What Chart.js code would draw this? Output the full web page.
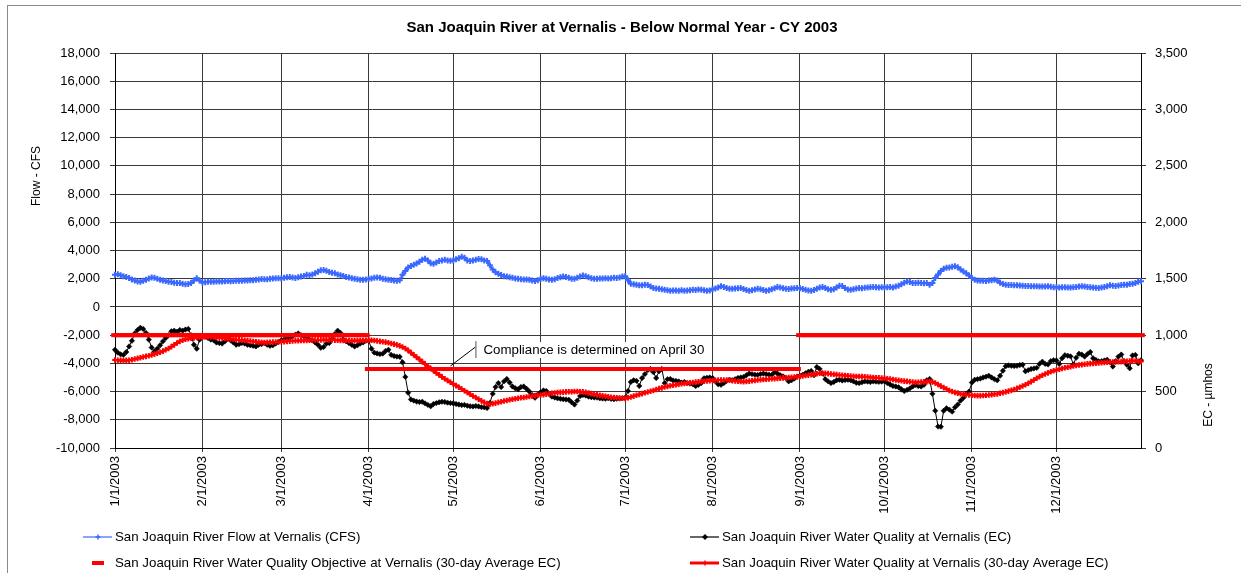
<!DOCTYPE html>
<html>
<head>
<meta charset="utf-8">
<script src="https://cdn.jsdelivr.net/npm/chart.js@4/dist/chart.umd.min.js"></script>
<style>
  html, body { margin: 0; padding: 0; background: #fff; }
  #wrap { width: 1241px; height: 573px; }
</style>
</head>
<body>
<div id="wrap"><canvas id="grafico" width="1241" height="573"></canvas></div>
<script>
// tick labels for the month grid lines
const monthTicks = ['1/1/2003', '2/1/2003', '3/1/2003', '4/1/2003', '5/1/2003', '6/1/2003',
  '7/1/2003', '8/1/2003', '9/1/2003', '10/1/2003', '11/1/2003', '12/1/2003'];

// flow at Vernalis (CFS), one value per day, one row per month
const flowCfs = [
  2280, 2310, 2240, 2170, 2120, 2050, 1950, 1880, 1800, 1790, 1850, 1930, 2010, 2080, 2060, 1990, 1930, 1880, 1830, 1780, 1760, 1720, 1700, 1690, 1650, 1600, 1620, 1700, 1880, 2040, 1880,
  1730, 1750, 1780, 1790, 1780, 1800, 1810, 1800, 1820, 1830, 1820, 1840, 1850, 1860, 1850, 1870, 1880, 1900, 1890, 1920, 1940, 1980, 1970, 1960, 1990, 2010, 2030, 2040,
  2020, 2060, 2100, 2120, 2090, 2050, 2100, 2150, 2200, 2280, 2250, 2300, 2380, 2490, 2600, 2620, 2560, 2480, 2430, 2380, 2300, 2240, 2190, 2120, 2080, 2040, 2000, 1960, 1930, 1920, 1940,
  2000, 2020, 2060, 2090, 2060, 2000, 1960, 1930, 1910, 1880, 1860, 1900, 2280, 2550, 2800, 2900, 2990, 3080, 3200, 3350, 3420, 3300, 3100, 3060, 3150, 3250, 3300, 3340, 3300, 3270,
  3300, 3380, 3450, 3550, 3480, 3300, 3250, 3300, 3350, 3400, 3380, 3300, 3250, 2950, 2650, 2450, 2350, 2260, 2180, 2150, 2100, 2060, 2020, 1990, 1960, 1940, 1950, 1920, 1880, 1840, 1900,
  2000, 2030, 1990, 1940, 1920, 1970, 2050, 2100, 2160, 2120, 2060, 2000, 1990, 2060, 2150, 2230, 2180, 2100, 2040, 2000, 1990, 2010, 2020, 2040, 2010, 2030, 2060, 2050, 2090, 2150,
  2180, 1900, 1640, 1600, 1580, 1540, 1530, 1570, 1560, 1450, 1350, 1300, 1290, 1250, 1210, 1180, 1150, 1160, 1170, 1150, 1180, 1150, 1160, 1190, 1220, 1200, 1240, 1220, 1180, 1150, 1160,
  1250, 1300, 1380, 1460, 1420, 1340, 1290, 1280, 1300, 1320, 1340, 1270, 1200, 1150, 1180, 1240, 1290, 1260, 1200, 1150, 1190, 1260, 1320, 1410, 1380, 1330, 1290, 1270, 1300, 1320, 1340,
  1320, 1270, 1210, 1160, 1150, 1200, 1280, 1380, 1410, 1340, 1260, 1220, 1250, 1380, 1500, 1480, 1350, 1240, 1220, 1260, 1300, 1340, 1320, 1360, 1380, 1400, 1410, 1390, 1370, 1390,
  1390, 1400, 1420, 1380, 1450, 1500, 1600, 1720, 1810, 1760, 1700, 1690, 1720, 1700, 1680, 1690, 1580, 1700, 2050, 2300, 2550, 2700, 2780, 2800, 2850, 2880, 2820, 2650, 2510, 2380, 2230,
  2050, 1930, 1870, 1850, 1860, 1840, 1880, 1900, 1930, 1880, 1720, 1620, 1580, 1560, 1550, 1540, 1530, 1520, 1510, 1490, 1480, 1470, 1460, 1470, 1450, 1440, 1450, 1460, 1430, 1400,
  1390, 1380, 1400, 1390, 1370, 1380, 1400, 1420, 1440, 1460, 1450, 1420, 1400, 1380, 1360, 1340, 1370, 1420, 1470, 1530, 1500, 1480, 1520, 1560, 1570, 1580, 1620, 1650, 1700, 1780, 1820
];

// water quality (EC, umhos), daily
const ecDaily = [
  870, 845, 830, 825, 850, 900, 950, 1015, 1045, 1065, 1055, 1020, 960, 890, 855, 880, 910, 945, 975, 1000, 1035, 1040, 1030, 1045, 1040, 1050, 1055, 1000, 915, 880, 960,
  985, 990, 975, 960, 955, 935, 930, 925, 945, 970, 955, 935, 915, 920, 930, 925, 915, 910, 905, 900, 915, 920, 930, 915, 905, 910, 925, 940,
  955, 960, 970, 975, 990, 1005, 1015, 1000, 990, 985, 960, 955, 935, 915, 888, 895, 925, 930, 965, 1010, 1040, 1020, 960, 945, 930, 915, 900, 910, 925, 935, 950,
  950, 880, 845, 838, 832, 836, 860, 870, 825, 815, 810, 808, 760, 630, 490, 430, 420, 412, 408, 410, 395, 382, 370, 390, 398, 405, 410, 408, 402, 398,
  396, 390, 385, 380, 382, 375, 370, 368, 372, 368, 362, 360, 355, 400, 480, 540, 575, 540, 590, 612, 580, 545, 530, 520, 540, 545, 525, 500, 470, 445, 475,
  495, 510, 505, 480, 455, 448, 440, 436, 432, 430, 428, 405, 385, 420, 460, 470, 465, 455, 450, 448, 446, 440, 438, 436, 440, 435, 432, 436, 438, 440,
  445, 505, 585, 600, 595, 550, 620, 655, 690, 700, 672, 620, 680, 700, 575, 610, 612, 598, 595, 590, 580, 585, 575, 570, 565, 548, 560, 575, 618, 622, 625,
  620, 590, 565, 560, 575, 595, 605, 600, 610, 620, 625, 630, 645, 660, 655, 650, 648, 655, 660, 655, 650, 648, 672, 660, 645, 635, 620, 590, 600, 615, 632,
  640, 650, 662, 675, 683, 645, 718, 700, 660, 610, 590, 575, 585, 600, 605, 598, 602, 605, 600, 590, 578, 575, 583, 590, 588, 584, 590, 588, 586, 588,
  590, 575, 562, 550, 545, 538, 520, 505, 515, 528, 545, 558, 548, 545, 560, 600, 612, 480, 330, 190, 188, 330, 352, 340, 322, 360, 385, 420, 445, 480, 500,
  580, 605, 610, 615, 625, 632, 640, 625, 610, 600, 640, 685, 725, 732, 728, 726, 728, 735, 738, 680, 690, 700, 705, 710, 745, 765, 745, 740, 770, 778,
  775, 745, 795, 822, 818, 812, 740, 800, 835, 828, 810, 832, 850, 795, 780, 768, 770, 775, 782, 760, 722, 770, 810, 828, 770, 737, 706, 820, 825, 750, 778
];

// 30-day running average EC, daily
const ec30day = [
  780, 778, 776, 775, 776, 778, 782, 788, 794, 800, 806, 812, 818, 825, 832, 840, 848, 858, 870, 882, 898, 914, 930, 945, 955, 963, 968, 972, 976, 979, 980,
  982, 984, 986, 985, 983, 980, 978, 975, 972, 969, 966, 963, 960, 958, 956, 953, 950, 947, 944, 941, 938, 936, 935, 936, 937, 938, 939, 940,
  941, 943, 945, 947, 949, 950, 951, 952, 953, 954, 955, 956, 957, 958, 958, 959, 959, 958, 957, 956, 955, 954, 953, 952, 951, 950, 950, 951, 952, 953, 955,
  956, 955, 952, 949, 945, 942, 938, 932, 926, 920, 914, 905, 895, 882, 865, 845, 825, 805, 785, 765, 745, 725, 705, 685, 665, 648, 630, 614, 598, 583,
  568, 553, 538, 522, 507, 492, 476, 461, 447, 432, 418, 404, 394, 388, 393, 398, 404, 410, 416, 421, 427, 432, 437, 441, 445, 448, 452, 456, 460, 464, 468,
  470, 473, 477, 481, 485, 488, 491, 493, 495, 497, 498, 499, 500, 500, 499, 497, 493, 488, 482, 476, 471, 466, 462, 458, 454, 450, 447, 445, 443, 441,
  440, 445, 452, 460, 468, 475, 482, 489, 496, 503, 510, 518, 526, 533, 540, 546, 552, 557, 561, 565, 569, 572, 575, 578, 581, 584, 587, 590, 592, 594, 596,
  598, 600, 602, 603, 603, 602, 600, 597, 594, 591, 589, 588, 590, 593, 596, 599, 602, 605, 607, 609, 611, 613, 615, 617, 619, 621, 623, 625, 627, 629, 632,
  635, 638, 642, 646, 650, 654, 658, 662, 663, 662, 659, 656, 653, 650, 647, 644, 642, 640, 638, 636, 634, 633, 632, 631, 629, 627, 625, 623, 621, 619,
  617, 614, 611, 607, 603, 599, 596, 593, 590, 587, 585, 583, 583, 584, 586, 588, 589, 586, 576, 562, 548, 535, 522, 510, 500, 492, 486, 481, 476, 472, 469,
  467, 465, 464, 464, 465, 467, 470, 473, 476, 480, 485, 491, 497, 504, 511, 519, 528, 538, 549, 561, 574, 588, 603, 618, 632, 645, 656, 666, 675, 684,
  691, 698, 705, 711, 716, 721, 726, 731, 735, 739, 742, 745, 748, 750, 752, 754, 756, 758, 760, 761, 762, 763, 764, 765, 766, 768, 770, 772, 771, 769, 767
];

// water quality objective (30-day average EC) by month
const objectiveByMonth = [1000, 1000, 1000, 700, 700, 700, 700, 700, 1000, 1000, 1000, 1000];

const seriesNames = [
  'San Joaquin River Flow at Vernalis (CFS)',
  'San Joaquin River Water Quality at Vernalis (EC)',
  'San Joaquin River Water Quality Objective at Vernalis (30-day Average EC)',
  'San Joaquin River Water Quality at Vernalis (30-day Average EC)'
];

// daily categories for 2003
const dias = [];
const objetivo = [];
for (let d = 0; d < flowCfs.length; d++) {
  const dt = new Date(2003, 0, 1 + d);
  dias.push((dt.getMonth() + 1) + '/' + dt.getDate() + '/2003');
  objetivo.push(objectiveByMonth[dt.getMonth()]);
}

const AZUL = 'rgb(58,104,255)';
const VERMELHO = 'rgb(255,0,0)';
const FONTE = '"Liberation Sans", Arial, sans-serif';
const GRADE = '#3a3a3a';

// fundo, moldura, titulos e legenda desenhados a mao
const moldura = {
  id: 'moldura',
  beforeDraw(chart) {
    const c = chart.ctx;
    c.save();
    c.fillStyle = '#fff';
    c.fillRect(0, 0, chart.width, chart.height);
    c.strokeStyle = '#8a8a8a';
    c.lineWidth = 1;
    c.strokeRect(7.5, 5.5, 1400, 800);
    c.restore();
  },
  afterDatasetsDraw(chart) {
    // nota "Compliance is determined on April 30"
    const c = chart.ctx;
    const x = chart.scales.x.getPixelForValue(119);
    const y = chart.scales.ec.getPixelForValue(700) - 3;
    c.save();
    c.font = '13.3px ' + FONTE;
    const txt = 'Compliance is determined on April 30';
    const w = c.measureText(txt).width;
    c.fillStyle = '#fff';
    c.fillRect(x + 25, y - 24, w + 12, 16);
    c.strokeStyle = '#000';
    c.lineWidth = 1;
    c.beginPath();
    c.moveTo(x, y);
    c.lineTo(x + 25, y - 19);
    c.stroke();
    c.strokeStyle = '#555';
    c.beginPath();
    c.moveTo(x + 25.5, y - 25);
    c.lineTo(x + 25.5, y - 8);
    c.stroke();
    c.fillStyle = '#000';
    c.textBaseline = 'middle';
    c.fillText(txt, x + 33, y - 15.5);
    c.restore();
  },
  afterDraw(chart) {
    const c = chart.ctx;
    c.save();
    c.fillStyle = '#000';
    c.textBaseline = 'middle';
    c.textAlign = 'center';
    c.font = 'bold 15px ' + FONTE;
    c.fillText('San Joaquin River at Vernalis - Below Normal Year - CY 2003', 622, 28);

    c.font = '12px ' + FONTE;
    c.save();
    c.translate(37, 176);
    c.rotate(-Math.PI / 2);
    c.fillText('Flow - CFS', 0, 0);
    c.restore();
    c.save();
    c.translate(1209, 395);
    c.rotate(-Math.PI / 2);
    c.fillText('EC - \u00b5mhos', 0, 0);
    c.restore();

    // legenda em duas colunas
    c.font = '13.3px ' + FONTE;
    c.textAlign = 'left';
    const itens = [
      { x: 83, y: 537, ds: 0 },
      { x: 690, y: 537, ds: 1 },
      { x: 83, y: 563, ds: 2 },
      { x: 690, y: 563, ds: 3 }
    ];
    itens.forEach(function (it) {
      const ds = chart.data.datasets[it.ds];
      const mx = it.x + 15;
      if (it.ds === 2) {
        c.fillStyle = VERMELHO;
        c.fillRect(it.x + 9, it.y - 2, 12, 4);
      } else {
        c.strokeStyle = ds.borderColor;
        c.lineWidth = it.ds === 3 ? 3 : 1.2;
        c.beginPath();
        c.moveTo(it.x, it.y);
        c.lineTo(it.x + 29, it.y);
        c.stroke();
        c.fillStyle = ds.borderColor;
        if (it.ds === 1) {
          c.beginPath();
          c.moveTo(mx, it.y - 3);
          c.lineTo(mx + 3, it.y);
          c.lineTo(mx, it.y + 3);
          c.lineTo(mx - 3, it.y);
          c.closePath();
          c.fill();
        } else {
          c.lineWidth = 1.5;
          c.beginPath();
          c.moveTo(mx - 2.5, it.y); c.lineTo(mx + 2.5, it.y);
          c.moveTo(mx, it.y - 2.5); c.lineTo(mx, it.y + 2.5);
          c.stroke();
        }
      }
      c.fillStyle = '#000';
      c.fillText(ds.label, it.x + 32, it.y);
    });
    c.restore();
  }
};

const ctx = document.getElementById('grafico').getContext('2d');
const grafico = new Chart(ctx, {
  type: 'line',
  data: {
    labels: dias,
    datasets: [
      {
        label: seriesNames[0],
        data: flowCfs,
        yAxisID: 'y',
        borderColor: AZUL,
        backgroundColor: AZUL,
        borderWidth: 2,
        pointStyle: 'cross',
        pointRadius: 3,
        pointBorderWidth: 2,
        order: 3
      },
      {
        label: seriesNames[1],
        data: ecDaily,
        yAxisID: 'ec',
        borderColor: '#000',
        backgroundColor: '#000',
        borderWidth: 1,
        pointStyle: 'rectRot',
        pointRadius: 2.7,
        pointBorderWidth: 0.5,
        order: 2
      },
      {
        label: seriesNames[2],
        data: objetivo,
        yAxisID: 'ec',
        showLine: false,
        borderColor: VERMELHO,
        backgroundColor: VERMELHO,
        pointStyle: 'line',
        pointRadius: 3.8,
        pointBorderWidth: 4,
        order: 1
      },
      {
        label: seriesNames[3],
        data: ec30day,
        yAxisID: 'ec',
        borderColor: VERMELHO,
        backgroundColor: VERMELHO,
        borderWidth: 2,
        pointStyle: 'cross',
        pointRadius: 2.8,
        pointBorderWidth: 2,
        order: 0
      }
    ]
  },
  options: {
    responsive: false,
    animation: false,
    events: [],
    layout: { padding: { top: 53, left: 0, right: 0, bottom: 0 } },
    plugins: {
      legend: { display: false },
      title: { display: false },
      tooltip: { enabled: false }
    },
    scales: {
      x: {
        type: 'category',
        offset: false,
        afterFit: function (s) { s.height = 125; },
        grid: {
          color: function (c) { return monthTicks.includes(dias[c.index]) ? GRADE : 'rgba(0,0,0,0)'; },
          tickLength: 4
        },
        border: { color: '#000' },
        ticks: {
          autoSkip: false,
          minRotation: 90,
          maxRotation: 90,
          padding: 4,
          color: '#000',
          font: { family: FONTE, size: 13 },
          callback: function (v, i) {
            const lab = dias[i];
            return monthTicks.includes(lab) ? lab : '';
          }
        }
      },
      y: {
        position: 'left',
        min: -10000,
        max: 18000,
        afterFit: function (s) { s.width = 115; },
        grid: { color: GRADE, tickLength: 5 },
        border: { color: '#000' },
        ticks: {
          stepSize: 2000,
          padding: 10,
          color: '#000',
          font: { family: FONTE, size: 13 },
          callback: function (v) { return v.toLocaleString('en-US'); }
        }
      },
      ec: {
        position: 'right',
        min: 0,
        max: 3500,
        afterFit: function (s) { s.width = 100; },
        grid: { drawOnChartArea: false, color: GRADE, tickLength: 5 },
        border: { color: '#000' },
        ticks: {
          stepSize: 500,
          padding: 9,
          color: '#000',
          font: { family: FONTE, size: 13 },
          callback: function (v) { return v.toLocaleString('en-US'); }
        }
      }
    }
  },
  plugins: [moldura]
});
</script>
</body>
</html>
